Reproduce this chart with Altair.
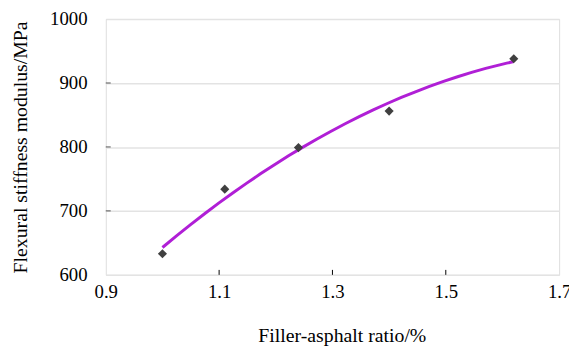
import altair as alt
import pandas as pd

ratio = [1.00, 1.11, 1.24, 1.40, 1.62]
modulus = [633, 734, 799, 856, 938]
x_ticks = [1.1, 1.3, 1.5]
y_ticks = [700, 800, 900]

df = pd.DataFrame({"ratio": ratio, "modulus": modulus})
xt = pd.DataFrame({"t": x_ticks})
yt = pd.DataFrame({"t": y_ticks})

W, H = 459, 259
FONT = "Times New Roman, Liberation Serif, serif"

xscale = alt.Scale(domain=[0.9, 1.7], nice=False, zero=False)
yscale = alt.Scale(domain=[600, 1000], nice=False, zero=False)

xaxis = alt.Axis(values=[0.9, 1.1, 1.3, 1.5, 1.7], format=".1f", grid=False, ticks=False,
                 domain=False, labelFont=FONT, labelFontSize=19, labelColor="black",
                 labelPadding=8, title="Filler-asphalt ratio/%", titleFont=FONT,
                 titleFontSize=20, titleFontWeight="normal", titleColor="black",
                 titlePadding=25, titleX=239, labelFlush=False)
yaxis = alt.Axis(values=[600, 700, 800, 900, 1000], format="d", grid=True, gridColor="#e3e3e3",
                 gridWidth=1.5, ticks=False, domain=False, labelFont=FONT,
                 labelFontSize=19, labelColor="black", labelPadding=19,
                 title="Flexural stiffness modulus/MPa", titleFont=FONT,
                 titleFontSize=20, titleFontWeight="normal", titleColor="black",
                 titleX=-76, labelFlush=False)

base = alt.Chart(df)

trend = base.transform_regression("ratio", "modulus", method="poly", order=2).mark_line(
    color="#b01fd6", strokeWidth=3
).encode(
    x=alt.X("ratio:Q", scale=xscale, axis=xaxis),
    y=alt.Y("modulus:Q", scale=yscale, axis=yaxis),
)

pts = base.mark_point(shape="diamond", filled=True, color="#404040", size=85, opacity=1).encode(
    x=alt.X("ratio:Q", scale=xscale),
    y=alt.Y("modulus:Q", scale=yscale),
)

xticks = alt.Chart(xt).mark_rule(color="black", strokeWidth=1).encode(
    x=alt.X("t:Q", scale=xscale),
    y=alt.value(H),
    y2=alt.value(H - 5),
)
yticks = alt.Chart(yt).mark_rule(color="#555555", strokeWidth=1).encode(
    y=alt.Y("t:Q", scale=yscale),
    x=alt.value(0),
    x2=alt.value(5),
)

chart = alt.layer(trend, pts, xticks, yticks).properties(
    width=W, height=H,
    autosize=alt.AutoSizeParams(type="none"),
    padding={"left": 99, "top": 9, "right": 10, "bottom": 80},
).configure_view(stroke="black", strokeWidth=1.3).configure(background="white")

chart.save("out.html", embed_options={"renderer": "svg", "actions": False})
